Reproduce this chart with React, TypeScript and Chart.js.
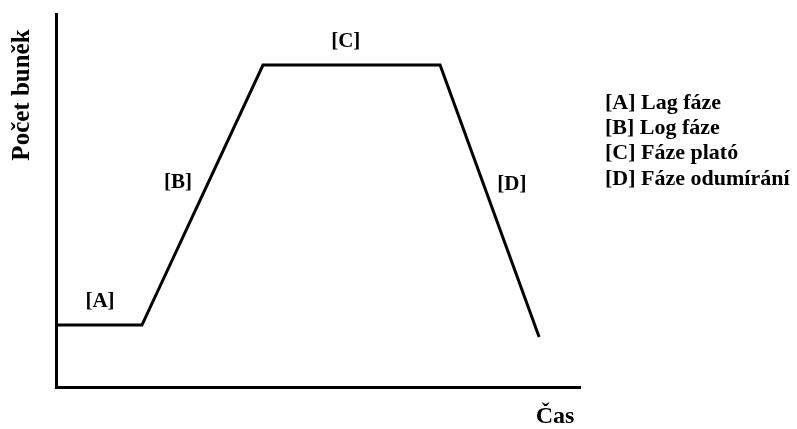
import React, { useEffect, useRef } from "react";
import { Chart, registerables } from "chart.js";

Chart.register(...registerables);

// Growth curve points (x = time units 0..100, y = cell count units 0..100)
const timeValues = [0, 16.4, 39.5, 73.3, 92.2];
const cellValues = [16.6, 16.6, 86.3, 86.3, 13.4];

// Phase labels placed in data coordinates
const phaseLabels = ["[A]", "[B]", "[C]", "[D]"];
const phaseLabelX = [8.4, 23.3, 55.3, 87.0];
const phaseLabelY = [22.8, 54.7, 92.5, 54.4];

// Legend text
const legendItems = ["[A] Lag fáze", "[B] Log fáze", "[C] Fáze plató", "[D] Fáze odumírání"];

const yTitle = "Počet buněk";
const xTitle = "Čas";

const FONT = "'Liberation Serif', 'Times New Roman', serif";

const textPlugin = {
  id: "textOverlay",
  afterDraw(chart: any) {
    const ctx = chart.ctx;
    const xs = chart.scales.x;
    const ys = chart.scales.y;
    const area = chart.chartArea;
    ctx.save();
    ctx.fillStyle = "#000";
    // phase labels
    ctx.font = `bold 21px ${FONT}`;
    ctx.textAlign = "center";
    ctx.textBaseline = "middle";
    phaseLabels.forEach((t, i) => {
      ctx.fillText(t, xs.getPixelForValue(phaseLabelX[i]), ys.getPixelForValue(phaseLabelY[i]));
    });
    // legend
    ctx.font = `bold 22px ${FONT}`;
    ctx.textAlign = "left";
    legendItems.forEach((t, i) => {
      ctx.fillText(t, area.right + 25, 103 + i * 25.4);
    });
    // axis titles
    ctx.font = `bold 24px ${FONT}`;
    ctx.textAlign = "center";
    ctx.fillText(xTitle, area.right - 25, area.bottom + 30);
    ctx.save();
    ctx.font = `bold 25px ${FONT}`;
    ctx.translate(area.left - 33, 95);
    ctx.rotate(-Math.PI / 2);
    ctx.fillText(yTitle, 0, 0);
    ctx.restore();
    ctx.restore();
  },
};

export default function App() {
  const ref = useRef<HTMLCanvasElement>(null);
  useEffect(() => {
    document.body.style.margin = "0";
    const chart = new Chart(ref.current!, {
      type: "line",
      data: {
        datasets: [
          {
            data: timeValues.map((x, i) => ({ x, y: cellValues[i] })),
            borderColor: "#000",
            borderWidth: 3,
            pointRadius: 0,
            tension: 0,
            fill: false,
          },
        ],
      },
      options: {
        animation: false,
        responsive: false,
        maintainAspectRatio: false,
        layout: { padding: { left: 56, top: 14, right: 217, bottom: 42 } },
        plugins: { legend: { display: false }, tooltip: { enabled: false } },
        scales: {
          x: {
            type: "linear",
            min: 0,
            max: 100,
            ticks: { display: false },
            grid: { display: false, drawTicks: false },
            border: { display: true, color: "#000", width: 3 },
          },
          y: {
            type: "linear",
            min: 0,
            max: 100,
            ticks: { display: false },
            grid: { display: false, drawTicks: false },
            border: { display: true, color: "#000", width: 3 },
          },
        },
      },
      plugins: [textPlugin],
    });
    return () => chart.destroy();
  }, []);
  return (
    <div style={{ position: "absolute", left: 0, top: 0, width: 797, height: 429, background: "#fff" }}>
      <canvas ref={ref} width={797} height={429} />
    </div>
  );
}
